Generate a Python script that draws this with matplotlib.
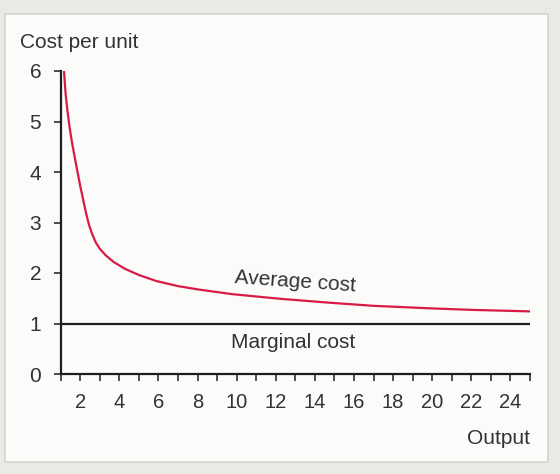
import matplotlib.pyplot as plt
from matplotlib.patches import Rectangle

plt.rcParams['font.family'] = ['Liberation Sans', 'DejaVu Sans']

# values
output = [1.17, 1.25, 1.35, 1.45, 1.57, 1.7, 1.85, 2.0, 2.15, 2.3, 2.45, 2.6, 2.8,
          3.0, 3.3, 3.7, 4.3, 5.0, 5.9, 7.0, 8.1, 9.8, 12.2, 14.8, 17.0, 19.9,
          22.0, 25.0]
average_cost = [6.0, 5.55, 5.2, 4.9, 4.6, 4.33, 4.02, 3.72, 3.45, 3.18, 2.95, 2.78, 2.6,
                2.48, 2.35, 2.22, 2.08, 1.96, 1.84, 1.74, 1.67, 1.58, 1.49, 1.41, 1.35,
                1.30, 1.27, 1.24]
marginal_x = [1, 25]
marginal_cost = [1.0, 1.0]

x_major = list(range(2, 25, 2))
x_minor = list(range(1, 26))
y_ticks = list(range(0, 7))

fig = plt.figure(figsize=(5.6, 4.74), dpi=100)
fig.patch.set_facecolor('#ebe9e6')
# inner panel
fig.add_artist(Rectangle((5 / 560, 1 - 462 / 474), 543 / 560, 448 / 474,
                         transform=fig.transFigure, facecolor='#fbfbfa',
                         edgecolor='#d6d4d1', linewidth=1.2, zorder=0))

ax = fig.add_axes([60.7 / 560, 1 - 374 / 474, (530 - 60.7) / 560, (374 - 71) / 474])
ax.set_facecolor('none')

ax.plot(output, average_cost, color='#d81b45', linewidth=1.6, solid_capstyle='butt')
ax.plot(marginal_x, marginal_cost, color='#1e1e1e', linewidth=1.6)

ax.set_xlim(1, 25)
ax.set_ylim(0, 6)
for s in ['top', 'right']:
    ax.spines[s].set_visible(False)
for s in ['left', 'bottom']:
    ax.spines[s].set_linewidth(1.6)
    ax.spines[s].set_color('#1e1e1e')

ax.set_xticks(x_major)
ax.set_xticks(x_minor, minor=True)
ax.set_yticks(y_ticks)
ax.tick_params(axis='x', which='both', direction='out', length=5, width=1.1,
               color='#1e1e1e', labelsize=14.5, labelcolor='#333333', pad=9)
ax.tick_params(axis='y', direction='out', length=5, width=1.1, color='#1e1e1e',
               labelsize=15, labelcolor='#333333', pad=9)

ax.text(13.0, 1.82, 'Average cost', fontsize=15, color='#333333',
        ha='center', va='center', rotation=-4)
ax.text(12.9, 0.62, 'Marginal cost', fontsize=15, color='#333333',
        ha='center', va='center')

fig.text(20 / 560, 1 - 42 / 474, 'Cost per unit', fontsize=15, color='#333333',
         ha='left', va='center')
fig.text(530 / 560, 1 - 438 / 474, 'Output', fontsize=15, color='#333333',
         ha='right', va='center')

fig.savefig('out.png', dpi=100, facecolor=fig.get_facecolor())
